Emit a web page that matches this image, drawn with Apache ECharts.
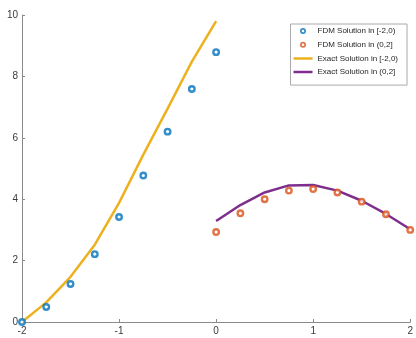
<!DOCTYPE html>
<html>
<head>
<meta charset="utf-8">
<script src="https://cdn.jsdelivr.net/npm/echarts@6/dist/echarts.min.js"></script>
<style>html,body{margin:0;padding:0;background:#fff;}#c{width:416px;height:338px;}</style>
</head>
<body>
<div id="c"></div>
<script>
const xLeft = [-2, -1.75, -1.5, -1.25, -1, -0.75, -0.5, -0.25, 0];
const xRight = [0, 0.25, 0.5, 0.75, 1, 1.25, 1.5, 1.75, 2];
const fdmLeft = [0, 0.49, 1.24, 2.21, 3.42, 4.77, 6.2, 7.59, 8.79];
const fdmRight = [2.93, 3.54, 4.0, 4.28, 4.33, 4.22, 3.92, 3.51, 3.0];
const exactLeft = [0, 0.64, 1.47, 2.52, 3.88, 5.45, 6.95, 8.48, 9.8];
const exactRight = [3.29, 3.81, 4.22, 4.45, 4.46, 4.28, 3.95, 3.52, 3.02];
const xTicks = [-2, -1, 0, 1, 2];
const yTicks = [0, 2, 4, 6, 8, 10];
const names = ['FDM Solution in [-2,0)', 'FDM Solution in (0,2]', 'Exact Solution in [-2,0)', 'Exact Solution in (0,2]'];

const zip = (xs, ys) => xs.map((x, i) => [x, ys[i]]);
const font = 'Liberation Sans, Arial, sans-serif';
const axisColor = '#8a8a8a';
const labelColor = '#3a3a3a';
const blue = '#0072BD', orange = '#D95319', yellow = '#EDB120', purple = '#7E2F8E';

// legend icons (19x10 box): a ring for markers, a bar for lines
const box = 'M0,0h0.01v0.01h-0.01zM19,10h0.01v0.01h-0.01z';
const ringIcon = 'path://' + box + 'M12.5,5A3,3,0,1,1,6.5,5A3,3,0,1,1,12.5,5zM10.8,5A1.3,1.3,0,1,0,8.2,5A1.3,1.3,0,1,0,10.8,5z';
const lineIcon = 'path://' + box + 'M0,3.75H19V6.25H0z';

const chart = echarts.init(document.getElementById('c'), null, {renderer: 'canvas'});
chart.setOption({
  animation: false,
  backgroundColor: '#fff',
  grid: {left: 22, right: 2, top: 15, bottom: 16, containLabel: false},
  xAxis: {
    type: 'value', min: xTicks[0], max: xTicks[xTicks.length - 1], interval: 1,
    axisLine: {onZero: false, lineStyle: {color: axisColor, width: 1}},
    axisTick: {inside: true, length: 3, lineStyle: {color: axisColor}},
    axisLabel: {color: labelColor, fontSize: 10, fontFamily: font, margin: 4},
    splitLine: {show: false}
  },
  yAxis: {
    type: 'value', min: yTicks[0], max: yTicks[yTicks.length - 1], interval: 2,
    axisLine: {show: true, onZero: false, lineStyle: {color: axisColor, width: 1}},
    axisTick: {show: true, inside: true, length: 3, lineStyle: {color: axisColor}},
    axisLabel: {color: labelColor, fontSize: 10, fontFamily: font, margin: 4},
    splitLine: {show: false}
  },
  legend: {
    orient: 'vertical', right: 9, top: 24,
    backgroundColor: '#fff', borderColor: '#aaaaaa', borderWidth: 1,
    padding: [2, 9, 8, 3], itemGap: 3.7, itemWidth: 19, itemHeight: 10,
    textStyle: {fontSize: 8, fontFamily: font, color: '#262626', lineHeight: 10},
    data: [
      {name: names[0], icon: ringIcon, itemStyle: {color: blue, borderWidth: 0}},
      {name: names[1], icon: ringIcon, itemStyle: {color: orange, borderWidth: 0}},
      {name: names[2], icon: lineIcon, itemStyle: {color: yellow, borderWidth: 0}},
      {name: names[3], icon: lineIcon, itemStyle: {color: purple, borderWidth: 0}}
    ]
  },
  series: [
    {name: names[2], type: 'line', data: zip(xLeft, exactLeft), symbol: 'none',
     lineStyle: {color: yellow, width: 2.5}, itemStyle: {color: yellow}, z: 2},
    {name: names[3], type: 'line', data: zip(xRight, exactRight), symbol: 'none',
     lineStyle: {color: purple, width: 2.5}, itemStyle: {color: purple}, z: 2},
    {name: names[0], type: 'scatter', data: zip(xLeft, fdmLeft), symbol: 'circle', symbolSize: 5.5, clip: false,
     itemStyle: {color: '#fff', borderColor: blue, borderWidth: 2.4}, z: 3},
    {name: names[1], type: 'scatter', data: zip(xRight, fdmRight), symbol: 'circle', symbolSize: 5.5, clip: false,
     itemStyle: {color: '#fff', borderColor: orange, borderWidth: 2.4}, z: 3}
  ]
});
</script>
</body>
</html>
